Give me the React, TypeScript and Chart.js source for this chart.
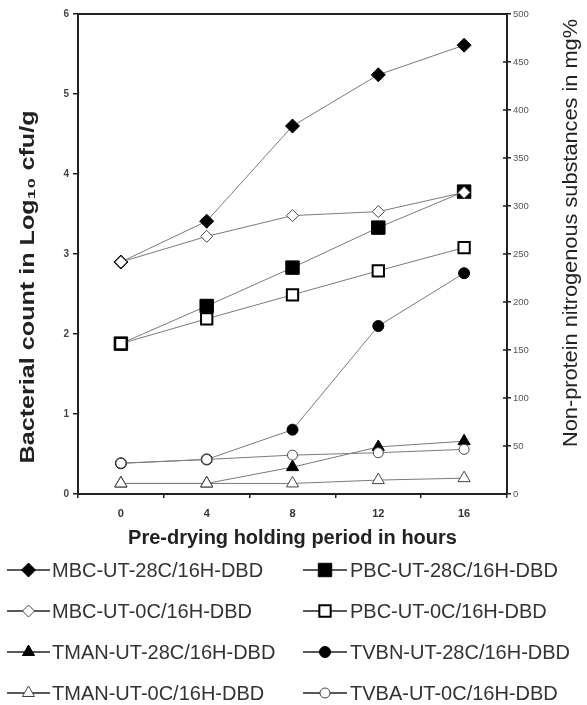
import React, { useEffect, useRef } from "react";
import { Chart, registerables } from "chart.js";
import { drawPoint } from "chart.js/helpers";

Chart.register(...registerables);

const hours = ["0", "4", "8", "12", "16"];

// Bacterial counts (Log10 cfu/g) – left axis
const mbc28 = [2.9, 3.41, 4.6, 5.24, 5.61];
const mbc0 = [2.9, 3.22, 3.48, 3.53, 3.77];
const pbc28 = [1.88, 2.35, 2.83, 3.33, 3.78];
const pbc0 = [1.88, 2.19, 2.49, 2.79, 3.08];
// Non-protein nitrogenous substances (mg%) – right axis
const tman28 = [11, 11, 28, 49, 55];
const tman0 = [11, 11, 11, 14.5, 16.5];
const tvbn28 = [32, 36, 67, 175, 230];
const tvba0 = [32, 36, 40.5, 43, 46.5];

const leftTicks = [0, 1, 2, 3, 4, 5, 6];
const rightTicks = [0, 50, 100, 150, 200, 250, 300, 350, 400, 450, 500];

const leftTitle = "Bacterial count in Log\u2081\u2080 cfu/g";
const rightTitle = "Non-protein nitrogenous substances in mg%";

const FONT = "'Liberation Sans', Arial, sans-serif";
const LINE = "#7a7a7a";

function ds(label: string, data: number[], axis: string, style: string, radius: number, filled: boolean, order: number, bw = 1, stroke = "#444") {
  return {
    label,
    data,
    yAxisID: axis,
    borderColor: LINE,
    borderWidth: 1,
    pointStyle: style,
    pointRadius: radius,
    pointBackgroundColor: filled ? "#000" : "#fff",
    pointBorderColor: filled ? "#000" : stroke,
    pointBorderWidth: bw,
    tension: 0,
    order,
  };
}

function verticalText(ctx: any, text: string, font: string, cx: number, cy: number, length: number) {
  ctx.save();
  ctx.font = font;
  const w = ctx.measureText(text).width;
  ctx.translate(cx, cy);
  ctx.rotate(-Math.PI / 2);
  ctx.scale(length / w, 1);
  ctx.textAlign = "center";
  ctx.textBaseline = "middle";
  ctx.fillStyle = "#222";
  ctx.fillText(text, 0, 0);
  ctx.restore();
}

const extras = {
  id: "extras",
  afterDraw(chart: any) {
    const { ctx, chartArea } = chart;
    ctx.save();
    // top frame line
    ctx.strokeStyle = "#222";
    ctx.lineWidth = 2;
    ctx.beginPath();
    ctx.moveTo(chartArea.left, chartArea.top);
    ctx.lineTo(chartArea.right, chartArea.top);
    ctx.stroke();
    // inward ticks on right axis
    const y1 = chart.scales.y1;
    ctx.lineWidth = 1.5;
    y1.ticks.forEach((t: any) => {
      const py = y1.getPixelForValue(t.value);
      ctx.beginPath();
      ctx.moveTo(chartArea.right - 4, py);
      ctx.lineTo(chartArea.right, py);
      ctx.stroke();
    });
    // axis titles (both read bottom-to-top)
    verticalText(ctx, leftTitle, `bold 20px ${FONT}`, 28, 287, 353);
    verticalText(ctx, rightTitle, `20px ${FONT}`, 571, 233, 428);
    // legend: two columns
    const colLine = [[7, 50], [303, 347]];
    const colText = [52, 350];
    const rowY = [570, 611, 652, 693];
    chart.data.datasets.forEach((d: any, i: number) => {
      const c = i % 2;
      const r = Math.floor(i / 2);
      const y = rowY[r];
      ctx.strokeStyle = "#222";
      ctx.lineWidth = 1.5;
      ctx.beginPath();
      ctx.moveTo(colLine[c][0], y);
      ctx.lineTo(colLine[c][1], y);
      ctx.stroke();
      const cx = (colLine[c][0] + colLine[c][1]) / 2;
      ctx.fillStyle = d.pointBackgroundColor;
      ctx.strokeStyle = d.pointBorderColor;
      ctx.lineWidth = d.pointBorderWidth;
      drawPoint(ctx, { pointStyle: d.pointStyle, radius: d.pointRadius, rotation: 0, borderWidth: d.pointBorderWidth }, cx, y);
      ctx.fillStyle = "#333";
      ctx.font = `20px ${FONT}`;
      ctx.textBaseline = "middle";
      ctx.textAlign = "left";
      ctx.fillText(d.label, colText[c], y + 1);
    });
    ctx.restore();
  },
};

export default function App() {
  const ref = useRef<HTMLCanvasElement>(null);
  useEffect(() => {
    if (!ref.current) return;
    const chart = new Chart(ref.current, {
      type: "line",
      data: {
        labels: hours,
        datasets: [
          ds("MBC-UT-28C/16H-DBD", mbc28, "y", "rectRot", 7, true, 1),
          ds("PBC-UT-28C/16H-DBD", pbc28, "y", "rect", 9.5, true, 1),
          ds("MBC-UT-0C/16H-DBD", mbc0, "y", "rectRot", 6, false, 0),
          ds("PBC-UT-0C/16H-DBD", pbc0, "y", "rect", 8, false, 0, 2, "#000"),
          ds("TMAN-UT-28C/16H-DBD", tman28, "y1", "triangle", 7, true, 1),
          ds("TVBN-UT-28C/16H-DBD", tvbn28, "y1", "circle", 5.5, true, 1),
          ds("TMAN-UT-0C/16H-DBD", tman0, "y1", "triangle", 7, false, 0),
          ds("TVBA-UT-0C/16H-DBD", tvba0, "y1", "circle", 5, false, 0),
        ] as any,
      },
      options: {
        responsive: false,
        animation: false,
        layout: { padding: { top: 14, bottom: 151, left: 0, right: 0 } },
        plugins: { legend: { display: false }, tooltip: { enabled: false } },
        scales: {
          x: {
            type: "category",
            offset: true,
            grid: { offset: true, drawOnChartArea: false, tickLength: 4, color: "#222", lineWidth: 1.5 },
            border: { color: "#222", width: 2 },
            ticks: { color: "#333", font: { family: FONT, size: 11, weight: "bold" }, padding: 9 },
            title: {
              display: true,
              text: "Pre-drying holding period in hours",
              color: "#222",
              font: { family: FONT, size: 20, weight: "bold" },
              padding: { top: 0, bottom: 4 },
            },
            afterFit: (s: any) => { s.height = 60; },
          },
          y: {
            position: "left",
            min: 0,
            max: 6,
            afterBuildTicks: (s: any) => { s.ticks = leftTicks.map((v) => ({ value: v })); },
            grid: { drawOnChartArea: false, tickLength: 5, color: "#222", lineWidth: 1.5 },
            border: { color: "#222", width: 2 },
            ticks: { color: "#444", font: { family: FONT, size: 10, weight: "bold" }, padding: 4 },
            afterFit: (s: any) => { s.width = 78; },
          },
          y1: {
            position: "right",
            min: 0,
            max: 500,
            afterBuildTicks: (s: any) => { s.ticks = rightTicks.map((v) => ({ value: v })); },
            grid: { drawOnChartArea: false, tickLength: 4, color: "#222", lineWidth: 1.5 },
            border: { color: "#222", width: 2 },
            ticks: { color: "#555", font: { family: FONT, size: 9.5 }, padding: 2 },
            afterFit: (s: any) => { s.width = 80; },
          },
        },
      } as any,
      plugins: [extras],
    });
    return () => chart.destroy();
  }, []);
  return (
    <div style={{ position: "absolute", left: 0, top: 0, width: 587, height: 705, background: "#fff" }}>
      <canvas ref={ref} width={587} height={705} style={{ display: "block" }} />
    </div>
  );
}
